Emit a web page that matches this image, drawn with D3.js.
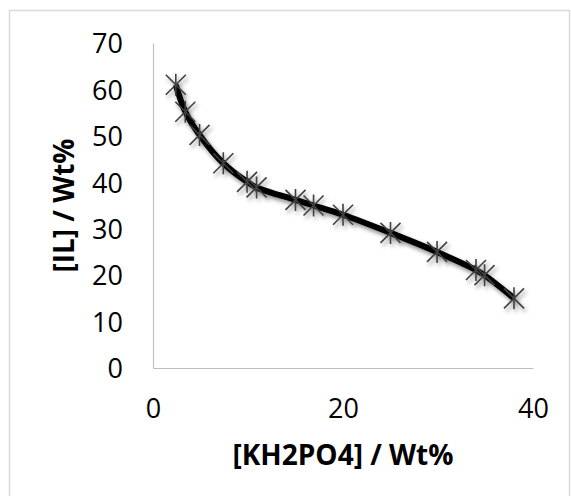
<!DOCTYPE html>
<html>
<head>
<meta charset="utf-8">
<script src="https://cdn.jsdelivr.net/npm/d3@7"></script>
<style>
  body { margin: 0; background: #fff; }
  text { font-family: "Open Sans", sans-serif; fill: #000; }
</style>
</head>
<body>
<div id="chart"></div>
<script>
// data
var kh2po4 = [2.4, 3.4, 4.9, 7.4, 9.9, 10.9, 15.0, 16.9, 20.0, 25.0, 29.9, 34.0, 34.9, 38.0];
var il     = [61.0, 55.2, 50.2, 44.1, 40.1, 38.9, 36.2, 35.0, 33.0, 29.1, 25.0, 21.1, 20.0, 15.0];
var xTicks = [0, 20, 40];
var yTicks = [0, 10, 20, 30, 40, 50, 60, 70];

var W = 571, H = 496;
var margin = {top: 43, right: 38, bottom: 128, left: 153},
    width = W - margin.left - margin.right,
    height = H - margin.top - margin.bottom;

var data = kh2po4.map(function(d, i) { return {x: d, y: il[i]}; });

var svg = d3.select("#chart").append("svg")
    .attr("width", W)
    .attr("height", H);

// drop shadow for the line
var defs = svg.append("defs");
var f = defs.append("filter").attr("id", "shadow")
    .attr("x", "-10%").attr("y", "-10%").attr("width", "130%").attr("height", "130%");
f.append("feDropShadow")
    .attr("dx", 2).attr("dy", 3)
    .attr("stdDeviation", 2)
    .attr("flood-color", "#000")
    .attr("flood-opacity", 0.45);

// outer chart border
svg.append("rect")
    .attr("x", 9.5).attr("y", 10.5)
    .attr("width", 560).attr("height", 500)
    .attr("fill", "none")
    .attr("stroke", "#d9d9d9")
    .attr("stroke-width", 1.5);

var g = svg.append("g")
    .attr("transform", "translate(" + margin.left + "," + margin.top + ")");

var x = d3.scaleLinear().domain([0, 40]).range([0, width]);
var y = d3.scaleLinear().domain([0, 70]).range([height, 0]);

// axes, no tick marks
var xAxis = g.append("g")
    .attr("transform", "translate(0," + height + ")")
    .call(d3.axisBottom(x).tickValues(xTicks).tickSize(0).tickPadding(0));
xAxis.select(".domain").attr("stroke", "#bfbfbf").attr("stroke-width", 1.2);
xAxis.selectAll("text")
    .attr("y", 50)
    .attr("dy", 0)
    .style("font-size", "27px");

var yAxis = g.append("g")
    .call(d3.axisLeft(y).tickValues(yTicks).tickSize(0).tickPadding(0));
yAxis.select(".domain").attr("stroke", "#bfbfbf").attr("stroke-width", 1.2);
yAxis.selectAll("text")
    .attr("x", -30)
    .attr("dy", "0.36em")
    .style("font-size", "27px");

// axis titles
svg.append("text")
    .attr("x", margin.left + width / 2)
    .attr("y", 465)
    .attr("text-anchor", "middle")
    .style("font-size", "28px")
    .style("font-weight", "bold")
    .text("[KH2PO4] / Wt%");

svg.append("text")
    .attr("transform", "translate(74," + (margin.top + height / 2) + ") rotate(-90)")
    .attr("text-anchor", "middle")
    .style("font-size", "28px")
    .style("font-weight", "bold")
    .text("[IL] / Wt%");

// smoothed line
var line = d3.line()
    .x(function(d) { return x(d.x); })
    .y(function(d) { return y(d.y); })
    .curve(d3.curveCatmullRom.alpha(0.5));

var series = g.append("g").attr("filter", "url(#shadow)");

series.append("path")
    .datum(data)
    .attr("fill", "none")
    .attr("stroke", "#000")
    .attr("stroke-width", 6)
    .attr("stroke-linejoin", "round")
    .attr("d", line);

// star markers (x plus vertical bar)
var R = 10;
var star = "M" + (-R) + "," + (-R) + "L" + R + "," + R +
           "M" + (-R) + "," + R + "L" + R + "," + (-R) +
           "M0," + (-R - 1) + "L0," + (R + 1);

series.selectAll(".mark")
    .data(data)
    .enter().append("path")
    .attr("class", "mark")
    .attr("transform", function(d) { return "translate(" + x(d.x) + "," + y(d.y) + ")"; })
    .attr("d", star)
    .attr("fill", "none")
    .attr("stroke", "#404040")
    .attr("stroke-width", 1.6);
</script>
</body>
</html>
